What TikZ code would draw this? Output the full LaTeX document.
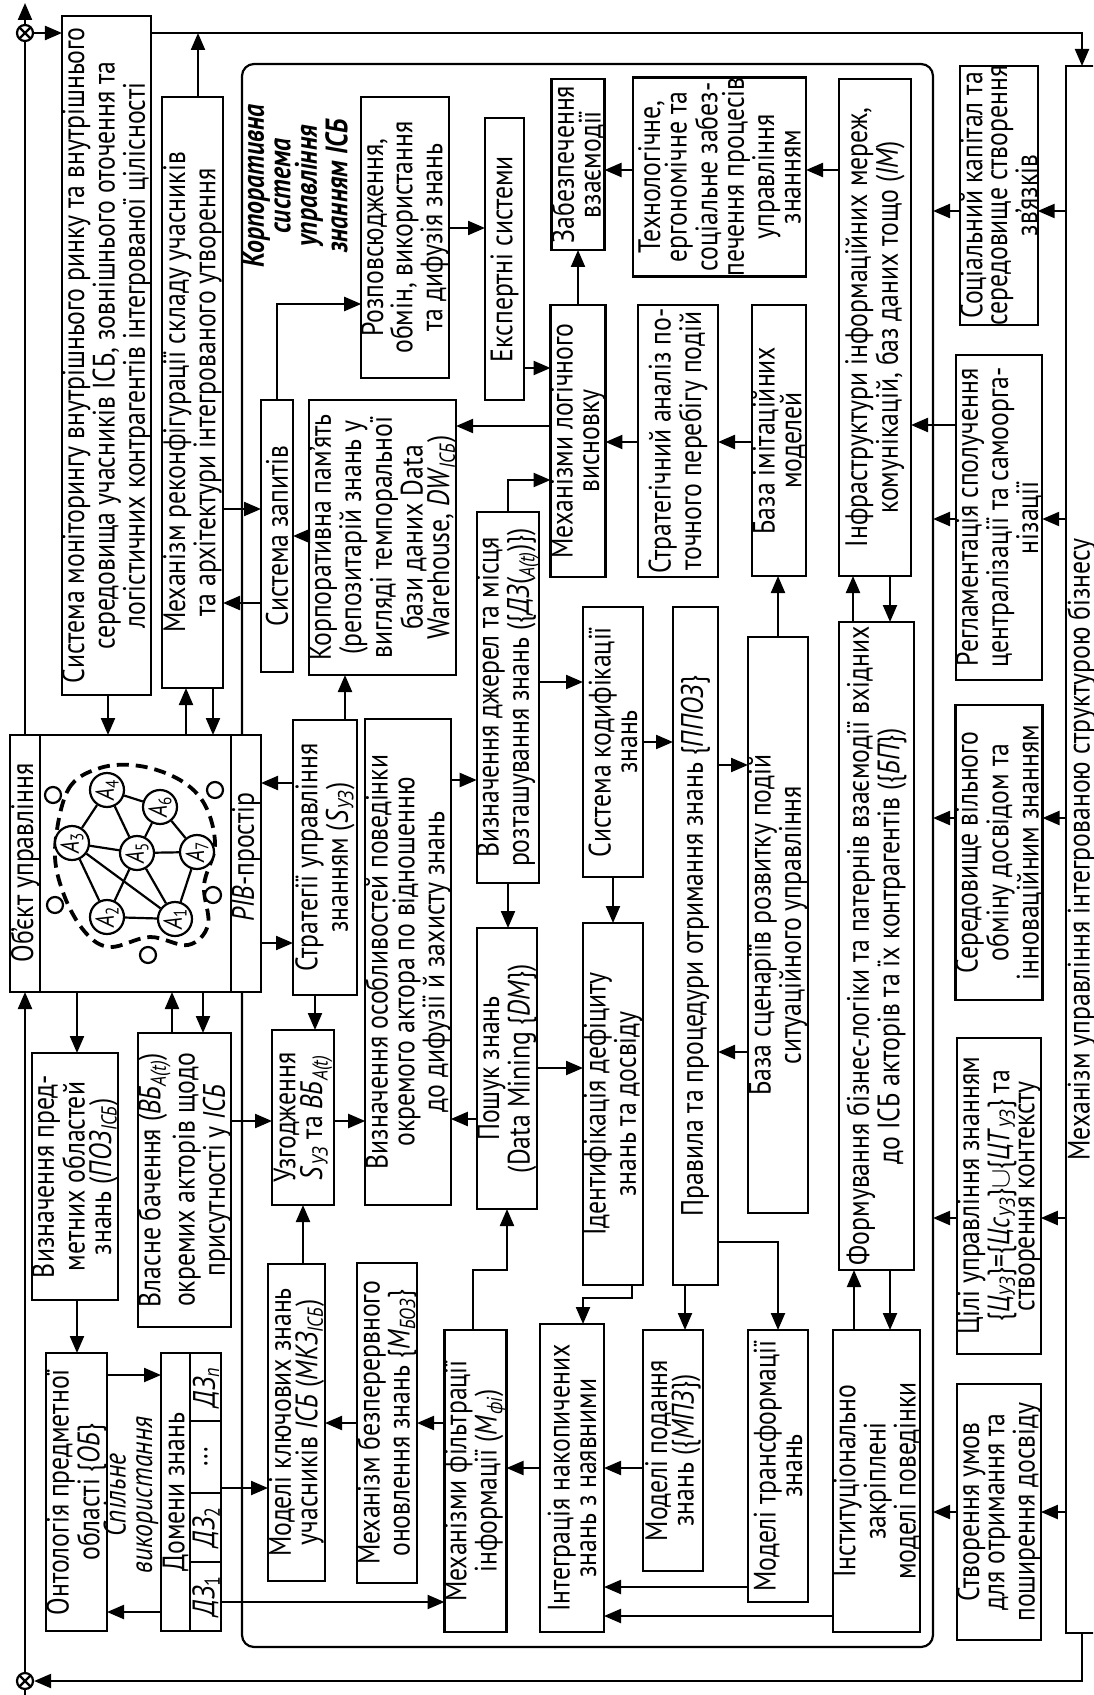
\documentclass[tikz,border=0pt]{standalone}
\usepackage{fontspec}
\setmainfont{PT Sans}[FakeStretch=0.83]
\usetikzlibrary{arrows.meta}
\newcommand\sbi[1]{\textsubscript{\textit{#1}}}
\newcommand\mainfs{\fontsize{15.5}{13.3}\selectfont}
\tikzset{
  box/.style={draw, fill=white, line width=1.1pt, rotate=90, inner sep=0pt, outer sep=0pt, align=center, font=\mainfs},
  lbl/.style={rotate=90, inner sep=0pt, align=center, font=\mainfs},
  arr/.style={line width=1.1pt, -{Triangle[length=8.5pt,width=7pt]}},
  ln/.style={line width=1.1pt},
  anode/.style={circle, draw, fill=white, line width=1.1pt, minimum size=17pt, inner sep=0pt, rotate=90, font=\fontsize{13}{13}\selectfont},
  smallc/.style={circle, draw, fill=white, line width=1.1pt, minimum size=8pt, inner sep=0pt},
  otimes/.style={circle, draw, fill=white, line width=1.1pt, minimum size=8pt, inner sep=0pt,
    path picture={\draw[line width=1.1pt] (path picture bounding box.north west)--(path picture bounding box.south east) (path picture bounding box.north east)--(path picture bounding box.south west);}}
}
\newcommand\bx[7][]{%
  \pgfmathsetmacro\bxW{(#6-#4)*0.5}%
  \pgfmathsetmacro\bxH{(#5-#3)*0.5}%
  \node[box, minimum width=\bxW pt, minimum height=\bxH pt, #1] (#2) at ({(#3+#5)/2},{(#4+#6)/2}) {#7};}
\newcommand\cRight[3]{\draw[arr] (#1.south |- 0,#3) -- (#2.north |- 0,#3);}
\newcommand\cLeft[3]{\draw[arr] (#1.north |- 0,#3) -- (#2.south |- 0,#3);}
\newcommand\cDown[3]{\draw[arr] (#3,0 |- #1.west) -- (#3,0 |- #2.east);}
\newcommand\cUp[3]{\draw[arr] (#3,0 |- #1.east) -- (#3,0 |- #2.west);}
\begin{document}
\begin{tikzpicture}[x=0.5pt,y=-0.5pt]
\useasboundingbox (0,0) rectangle (1093,1695);
\clip (0,0) rectangle (1093,1695);
\fill[white] (0,0) rectangle (1093,1695);

% frame of the corporate system
\bx[fill=none, rounded corners=6pt]{frame}{242}{64}{933}{1647}{}
\node[lbl, font=\mainfs\bfseries\itshape] (title) at (295,186) {Корпоративна\\система\\управління\\знанням ІСБ};

% boxes
\bx{mon}{65}{16}{148}{695}{Система моніторингу внутрішнього ринку та внутрішнього\\середовища учасників ІСБ, зовнішнього оточення та\\логістичних контрагентів інтегрованої цілісності}
\bx{rec}{162}{97}{223}{688}{Механізм реконфігурації складу учасників\\та архітектури інтегрованого утворення}
\bx{obj}{10}{735}{261}{992}{}
\bx{v1}{35}{1053}{115}{1300}{Визначення пред-\\метних областей\\знань (\textit{ПОЗ}\sbi{ІСБ})}
\bx{ont}{46}{1353}{107}{1631}{Онтологія предметної\\області \{\textit{ОБ}\}}
\bx{dom}{161}{1353}{221}{1631}{}
\bx{vl}{140}{1033}{229}{1327}{Власне бачення (\textit{ВБ}\sbi{A(t)})\\окремих акторів щодо\\присутності у \textit{ІСБ}}
\bx{uzg}{272}{1030}{334}{1205}{Узгодження\\\textit{S}\sbi{УЗ} та \textit{ВБ}\sbi{A(t)}}
\bx{str}{293}{720}{357}{995}{Стратегії управління\\знанням (\textit{S}\sbi{УЗ})}
\bx{mkz}{268}{1264}{325}{1581}{Моделі ключових знань\\учасників \textit{ІСБ} (\textit{МКЗ}\sbi{ІСБ})}
\bx{mboz}{357}{1263}{417}{1583}{Механізм безперервного\\оновлення знань \{\textit{M}\sbi{БОЗ}\}}
\bx{mfi}{447}{1330}{504}{1632}{Механізми фільтрації\\інформації (\textit{M}\sbi{фі})}
\bx{zap}{261}{400}{293}{672}{Система запитів}
\bx{mem}{318}{400}{447}{675}{Корпоративна пам’ять\\(репозитарій знань у\\вигляді темпоральної\\бази даних Data\\Warehouse, \textit{DW}\sbi{ІСБ})}
\bx{osob}{368}{719}{448}{1205}{Визначення особливостей поведінки\\окремого актора по відношенню\\до дифузії й захисту знань}
\bx{rozp}{362}{97}{448}{378}{Розповсюдження,\\обмін, використання\\та дифузія знань}
\bx{exp}{485}{118}{524}{400}{Експертні системи}
\bx{dzh}{479}{512}{537}{883}{Визначення джерел та місця\\розташування знань (\{\textit{ДЗ}(\sbi{A(t)})\})}
\bx{posh}{477}{928}{537}{1209}{Пошук знань\\(Data Mining \{\textit{DM}\})}
\bx{integ}{540}{1324}{604}{1632}{Інтеграція накопичених\\знань з наявними}
\bx{logic}{552}{305}{604}{577}{Механізми логічного\\висновку}
\bx{zab}{552}{79}{604}{250}{Забезпечення\\взаємодії}
\bx{kod}{583}{607}{643}{877}{Система кодифікації\\знань}
\bx{ident}{583}{923}{643}{1285}{Ідентифікація дефіциту\\знань та досвіду}
\bx{ppoz}{673}{607}{718}{1285}{Правила та процедури отримання знань \{\textit{ППОЗ}\}}
\bx{mpz}{643}{1330}{703}{1571}{Моделі подання\\знань (\{\textit{МПЗ}\})}
\bx{tech}{633}{79}{806}{275}{Технологічне,\\ергономічне та\\соціальне забез-\\печення процесів\\управління\\знанням}
\bx{stan}{638}{305}{718}{577}{Стратегічний аналіз по-\\точного перебігу подій}
\bx{imit}{752}{305}{806}{576}{База імітаційних\\моделей}
\bx{scen}{748}{637}{808}{1213}{База сценаріїв розвитку подій\\ситуаційного управління}
\bx{mtr}{748}{1330}{808}{1602}{Моделі трансформації\\знань}
\bx{infra}{839}{79}{911}{576}{Інфраструктури інформаційних мереж,\\комунікацій, баз даних тощо (\textit{ІМ})}
\bx{form}{839}{622}{914}{1270}{Формування бізнес-логіки та патернів взаємодії вхідних\\до ІСБ акторів та їх контрагентів (\{\textit{БП}\})}
\bx{inst}{839}{1330}{914}{1632}{Інституціонально\\закріплені\\моделі поведінки}
\bx[font=\fontsize{15.5}{12.4}\selectfont]{soc}{961}{66}{1037}{325}{Соціальний капітал та\\середовище створення\\зв’язків}
\bx[font=\fontsize{15.5}{12.6}\selectfont]{regl}{961}{355}{1037}{680}{Регламентація сполучення\\централізації та самоорга-\\нізації}
\bx[font=\fontsize{15.5}{12.6}\selectfont]{ser}{961}{705}{1037}{1000}{Середовище вільного\\обміну досвідом та\\інноваційним знанням}
\bx[font=\fontsize{15.5}{12.6}\selectfont]{cili}{961}{1038}{1037}{1354}{Цілі управління знанням\\\{\textit{Ц}\sbi{УЗ}\}=\{\textit{Цс}\sbi{УЗ}\}\ensuremath{\cup}\{\textit{ЦТ}\sbi{УЗ}\} та\\створення контексту}
\bx[font=\fontsize{15.5}{12.6}\selectfont]{stv}{961}{1384}{1037}{1640}{Створення умов\\для отримання та\\поширення досвіду}
\bx{bus}{1066}{66}{1097}{1633}{Механізм управління інтегрованою структурою бізнесу}

% object box details
\draw[ln] (40,0 |- obj.east) -- (40,0 |- obj.west);
\draw[ln] (231,0 |- obj.east) -- (231,0 |- obj.west);
\node[lbl] (objl) at (25,863) {Об’єкт управління};
\node[lbl] (pib) at (246,857) {\textit{PIB}-простір};

% network
\draw[line width=1.9pt, dash pattern=on 6pt off 3.5pt] plot[smooth cycle, tension=0.6] coordinates {(55,850) (68,790) (100,768) (140,766) (180,780) (205,805) (215,845) (204,885) (208,925) (188,945) (150,937) (110,947) (85,932) (64,895)};
\foreach \n/\x/\y in {1/175/919, 2/107/917, 3/72/843, 4/107/790, 5/137/853, 6/160/807, 7/197/852}
  \node[anode] (A\n) at (\x,\y) {\textit{A}\textsubscript{\n}};
\foreach \a/\b in {1/2,1/3,1/5,1/7,2/3,2/5,3/4,3/5,4/5,4/6,5/6,5/7,6/7}
  \draw[ln] (A\a) -- (A\b);
\foreach \x/\y [count=\i] in {53/795, 215/790, 55/905, 213/895, 148/955}
  \node[smallc] (s\i) at (\x,\y) {};

% domains
\draw[ln] (190,0 |- dom.east) -- (190,0 |- dom.west);
\foreach \yy in {1421,1493,1562} \draw[ln] (190,\yy) -- (dom.south |- 0,\yy);
\node[lbl] (domt) at (175.5,1492) {Домени знань};
\node[lbl] (dzn) at (206,1387) {\textit{ДЗ}\sbi{n}};
\node[lbl] (dzd) at (206,1457) {...};
\node[lbl] (dz2) at (206,1527) {\textit{ДЗ}\textsubscript{2}};
\node[lbl] (dz1) at (206,1596) {\textit{ДЗ}\textsubscript{1}};
\node[lbl, font=\mainfs\itshape] (sp) at (131,1495) {Спільне\\використання};

% outer loop
\node[otimes] (ctop) at (25,33) {};
\node[otimes] (cbot) at (25,1681) {};
\coordinate (topend) at (25,3);
\coordinate (botend) at (25,1700);
\draw[ln] (25,0 |- obj.east) -- (ctop);
\draw[arr] (ctop) -- (topend);
\draw[arr] (ctop) -- (mon.north |- ctop);
\draw[arr] (mon.south |- ctop) -| (1082,0 |- bus.east);
\draw[arr] (198,0 |- rec.east) -- (198,0 |- ctop);
\draw[arr] (1082,0 |- bus.west) |- (cbot);
\draw[arr] (cbot) -- (25,0 |- obj.west);
\draw[ln] (cbot) -- (botend);

% connectors
\cDown{mon}{obj}{108}
\cUp{obj}{rec}{186}
\cDown{rec}{obj}{213}
\cRight{rec}{zap}{509}
\cLeft{zap}{rec}{603}
\cLeft{mem}{zap}{536}
\draw[arr] (277,0 |- zap.east) |- (rozp.north |- 0,304);
\cRight{rozp}{exp}{228}
\cRight{exp}{logic}{368}
\cUp{logic}{zab}{578}
\cLeft{tech}{zab}{170}
\cLeft{infra}{tech}{170}
\cLeft{logic}{mem}{426}
\cLeft{stan}{logic}{442}
\cLeft{imit}{stan}{442}
\draw[arr] (508,0 |- dzh.east) |- (logic.north |- 0,480);
\cRight{dzh}{kod}{682}
\cRight{kod}{ppoz}{742}
\cRight{osob}{dzh}{780}
\cUp{str}{mem}{345}
\cRight{obj}{str}{943}
\cLeft{str}{obj}{783}
\cDown{str}{uzg}{315}
\cUp{mkz}{uzg}{303}
\cRight{vl}{uzg}{1121}
\cRight{uzg}{osob}{1121}
\cDown{obj}{v1}{77}
\cDown{v1}{ont}{77}
\cUp{vl}{obj}{172}
\cDown{obj}{vl}{203}
\cRight{ont}{dom}{1375}
\cLeft{dom}{ont}{1612}
\cRight{dom}{mkz}{1488}
\cRight{dom}{mfi}{1602}
\cLeft{mboz}{mkz}{1423}
\cLeft{mfi}{mboz}{1423}
\draw[arr] (473,0 |- mfi.east) -- (473,1270) -- (507,1270) -- (507,0 |- posh.west);
\cLeft{integ}{mfi}{1468}
\cLeft{mpz}{integ}{1468}
\cLeft{mtr}{integ}{1587}
\cLeft{inst}{integ}{1616}
\draw[arr] (632,0 |- ident.west) -- (632,1298) -- (583,1298) -- (583,0 |- integ.east);
\cDown{ppoz}{mpz}{685}
\draw[arr] (ppoz.south |- 0,1242) -| (778,0 |- mtr.east);
\cRight{ppoz}{scen}{765}
\cLeft{scen}{ppoz}{1052}
\cUp{scen}{imit}{778}
\cUp{form}{infra}{853}
\cDown{infra}{form}{890}
\cUp{inst}{form}{854}
\cDown{form}{inst}{890}
\cLeft{regl}{infra}{425}
\foreach \b/\yy in {soc/211, regl/519, ser/818, cili/1218, stv/1512} {\cLeft{bus}{\b}{\yy}\cLeft{\b}{frame}{\yy}}
\cLeft{posh}{osob}{1119}
\cRight{posh}{ident}{1068}
\cDown{dzh}{posh}{508}
\cDown{kod}{ident}{613}
\end{tikzpicture}
\end{document}
